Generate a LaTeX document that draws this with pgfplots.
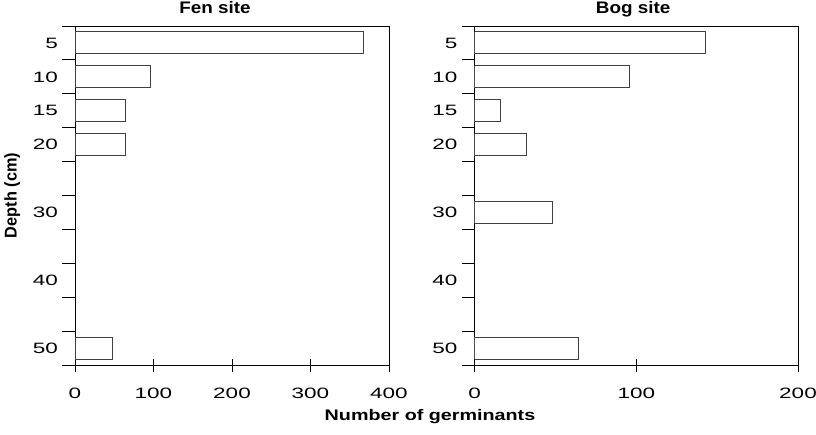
\documentclass[border=0pt]{standalone}
\usepackage{fontspec}
\setmainfont{Liberation Sans}
\newfontfamily\tickfont[FakeStretch=1.5]{Liberation Sans}
\newfontfamily\titlefont[FakeStretch=1.13]{Liberation Sans}
\newfontfamily\xlabfont[FakeStretch=1.29]{Liberation Sans}
\newfontfamily\ylabfont[FakeStretch=0.96]{Liberation Sans}
\usepackage{pgfplots}
\pgfplotsset{compat=1.18}
\definecolor{barline}{HTML}{404040}
\pgfplotsset{
  germ/.style={
    scale only axis,
    height=339pt,
    ymin=0, ymax=10, y dir=reverse,
    ytick={0,1,...,10}, yticklabels={},
    extra y ticks={0.5,1.5,2.5,3.5,5.5,7.5,9.5},
    extra y tick labels={5,10,15,20,30,40,50},
    extra y tick style={major tick length=0pt},
    xtick pos=bottom, ytick pos=left,
    tick align=center,
    major tick length=13pt,
    tick style={black, line width=0.9pt},
    axis line style={black, line width=1pt},
    /pgf/number format/assume math mode=true,
    ticklabel style={font=\tickfont\fontsize{15}{15}\selectfont},
    xticklabel style={anchor=north, inner sep=0pt},
    yticklabel style={anchor=east, inner sep=0pt},
    xticklabel shift=16pt,
    yticklabel shift=17pt,
    title style={font=\titlefont\bfseries\fontsize{16.7}{16.7}\selectfont, anchor=base, inner sep=0pt, yshift=6.7pt},
    xbar, bar width=22pt, bar shift=0pt,
  }
}
\begin{document}
\begin{tikzpicture}
\useasboundingbox (0,0) rectangle (816pt,434pt);
\begin{axis}[germ,
  at={(75pt,69pt)}, anchor=south west,
  width=314pt,
  xmin=0, xmax=400, xtick={0,100,200,300,400},
  title={Fen site},
  title style={at={(axis description cs:0.446,1)}},
  ylabel={Depth (cm)},
  ylabel style={font=\ylabfont\bfseries\fontsize{17}{17}\selectfont, at={(axis description cs:-0.1857,0.5)}, anchor=base, inner sep=0pt},
]
\addplot[draw=barline, fill=white, line width=1pt] coordinates {(368,0.5) (96,1.5) (64,2.5) (64,3.5) (48,9.5)};
\end{axis}
\begin{axis}[germ,
  at={(474.7pt,69pt)}, anchor=south west,
  width=323.3pt,
  xmin=0, xmax=200, xtick={0,100,200},
  title={Bog site},
  title style={at={(axis description cs:0.49,1)}},
]
\addplot[draw=barline, fill=white, line width=1pt] coordinates {(143,0.5) (96,1.5) (16,2.5) (32,3.5) (48,5.5) (64,9.5)};
\end{axis}
\node[anchor=base, inner sep=0pt, font=\xlabfont\bfseries\fontsize{15.3}{15.3}\selectfont] at (430pt,14pt) {Number of germinants};
\end{tikzpicture}
\end{document}
